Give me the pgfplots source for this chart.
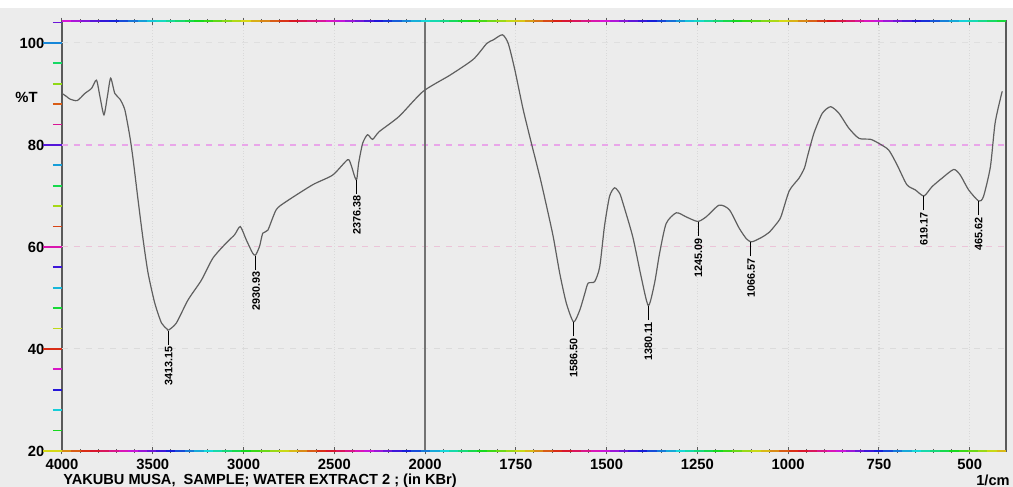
\documentclass[border=0pt]{standalone}
\usepackage{fontspec}
\setmainfont{Liberation Sans}
\usepackage{pgfplots}
\pgfplotsset{compat=1.18}
\definecolor{bg}{RGB}{236,236,236}
\definecolor{curve}{RGB}{95,95,95}
\definecolor{axisgray}{RGB}{90,90,90}

\pgfplotstableread{
wn T
4000 90.1
3975 89.5
3956 89.0
3916 88.7
3874 90.1
3837 91.1
3810 92.7
3790 89.3
3769 85.9
3750 89.5
3732 93.1
3709 90.1
3681 89.0
3654 86.9
3626 81.6
3608 77.1
3581 69.2
3553 61.4
3526 54.9
3489 49.0
3452 45.1
3421 43.9
3413 43.7
3370 45.1
3306 49.6
3232 53.5
3169 57.8
3095 60.8
3049 62.4
3018 64.0
2985 61.4
2950 58.8
2934 58.4
2912 60.1
2894 62.7
2866 63.3
2820 67.3
2765 68.9
2619 72.2
2509 74.1
2427 77.1
2408 76.1
2386 73.6
2376 73.3
2366 76.4
2344 80.3
2317 82.0
2289 81.1
2253 82.6
2143 85.6
2011 90.5
1931 93.7
1867 96.8
1830 99.9
1812 100.6
1787 101.6
1771 99.9
1753 94.8
1730 87.0
1707 80.3
1684 73.8
1666 68.2
1647 62.0
1629 54.8
1611 49.0
1591 45.3
1574 47.6
1560 50.9
1551 52.9
1533 53.2
1519 56.1
1506 64.0
1492 69.9
1478 71.6
1464 70.5
1455 68.6
1428 62.0
1405 54.2
1385 48.5
1368 52.9
1354 58.8
1336 64.6
1308 66.7
1281 65.9
1249 65.0
1226 65.9
1190 68.2
1162 67.3
1135 63.7
1115 61.6
1102 61.0
1089 61.3
1070 62.0
1052 62.9
1035 64.3
1020 65.9
997 71.0
970 73.5
955 75.5
947 77.7
929 82.3
906 86.2
883 87.5
860 86.2
833 83.3
805 81.3
773 81.1
750 80.3
723 79.0
700 76.1
673 72.2
650 71.2
626 70.0
604 71.8
576 73.5
544 75.2
526 74.1
503 71.2
475 69.0
462 69.9
443 75.7
430 84.3
413 89.8
410 90.5
}\spectrum

\pgfplotstableread{
wn T lab
3413 43.7 3413.15
2931 58.4 2930.93
2376 73.3 2376.38
1591 45.3 1586.50
1385 48.5 1380.11
1247 65.0 1245.09
1102 61.0 1066.57
626 70.0 619.17
475 69.0 465.62
}\peaks

\begin{document}
\begin{tikzpicture}[font=\bfseries]
\path[use as bounding box] (-31pt,-18pt) rectangle (475.5pt,225.5pt);
\fill[white] (-31pt,-18pt) rectangle (475.5pt,225.5pt);
\fill[bg] (-31pt,-18pt) rectangle (475.5pt,221.5pt);
\begin{axis}[
  at={(0,0)}, anchor=south west,
  scale only axis, width=472pt, height=215pt,
  clip=false,
  x coord trafo/.code={\pgfmathparse{#1>=2000 ? 4000-#1 : 6000-2*#1}},
  xmin=4000, xmax=400, ymin=20, ymax=104.3,
  xtick={4000,3500,3000,2500,2000,1750,1500,1250,1000,750,500},
  xticklabels={4000,3500,3000,2500,2000,1750,1500,1250,1000,750,500},
  minor x tick num=4,
  ytick={20,40,60,80,100}, yticklabels={20,40,60,80,100},
  tick align=center,
  major tick length=3.5pt, minor tick length=2pt,
  x tick style={axisgray, line width=0.5pt},
  y tick style={draw=none},
  tick label style={font=\bfseries\fontsize{7.4}{9}\selectfont},
  xticklabel style={yshift=1.2pt},
  yticklabel style={xshift=-3.5pt},
  axis line style={axisgray, line width=0.8pt},
  xmajorgrids,
  x grid style={gray!30, densely dotted, line width=0.6pt},
]
\addplot[gray!25, dashed, line width=0.5pt] coordinates {(4000,100) (400,100)};
\addplot[violet!50!magenta!35, dashed, line width=0.6pt] coordinates {(4000,80) (400,80)};
\addplot[violet!35!pink!45, dashed, line width=0.5pt] coordinates {(4000,60) (400,60)};
\addplot[gray!28, dashed, line width=0.5pt] coordinates {(4000,40) (400,40)};
\addplot[axisgray!85, line width=0.9pt] coordinates {(2000,20) (2000,104.3)};
\addplot[curve, line width=0.6pt, smooth, tension=0.4] table[x=wn, y=T] {\spectrum};
\addplot[draw=none, mark=none, point meta=explicit symbolic,
  nodes near coords={\pgfplotspointmeta\hspace{1.2pt}\rule[0.32em]{7pt}{0.5pt}\hspace{1pt}},
  every node near coord/.append style={rotate=90, anchor=east, inner sep=0pt,
    text=black, font=\bfseries\fontsize{5.4}{6}\selectfont}]
  table[x=wn, y=T, meta=lab] {\peaks};
\end{axis}
% rainbow top and bottom frame lines
\foreach \i in {0,...,99} {
  \pgfmathsetmacro\h{mod(0.83 - \i*0.035 + 5, 1)}
  \definecolor{tc}{hsb}{\h,0.9,0.85}
  \draw[tc, line width=1pt] ({\i*4.72pt},215pt) -- ({(\i+1)*4.72pt},215pt);
  \pgfmathsetmacro\hb{mod(0.10 - \i*0.04 + 5, 1)}
  \definecolor{tb}{hsb}{\hb,0.9,0.85}
  \draw[tb, line width=0.9pt] ({\i*4.72pt},0pt) -- ({(\i+1)*4.72pt},0pt);
}
% colored y ticks
\foreach \t [count=\i] in {20,24,...,104} {
  \pgfmathsetmacro\h{mod(\i*0.17,1)}
  \definecolor{tk}{hsb}{\h,0.9,0.85}
  \pgfmathsetmacro\len{mod(\t,20)==0 ? 9.5 : 4.5}
  \pgfmathsetmacro\yy{(\t-20)*2.55}
  \draw[tk, line width=0.9pt] ({-\len*1pt},{\yy*1pt}) -- (0,{\yy*1pt});
}
\node[anchor=east, font=\bfseries\fontsize{7.4}{9}\selectfont, inner sep=0pt] at (-12pt,177pt) {\%T};
\node[anchor=west, font=\bfseries\fontsize{7.3}{9}\selectfont, inner sep=0pt] at (0.5pt,-14.8pt) {YAKUBU MUSA,\ \ SAMPLE; WATER EXTRACT 2 ; (in KBr)};
\node[anchor=east, font=\bfseries\fontsize{7.3}{9}\selectfont, inner sep=0pt] at (474pt,-14.8pt) {1/cm};
\end{tikzpicture}
\end{document}
